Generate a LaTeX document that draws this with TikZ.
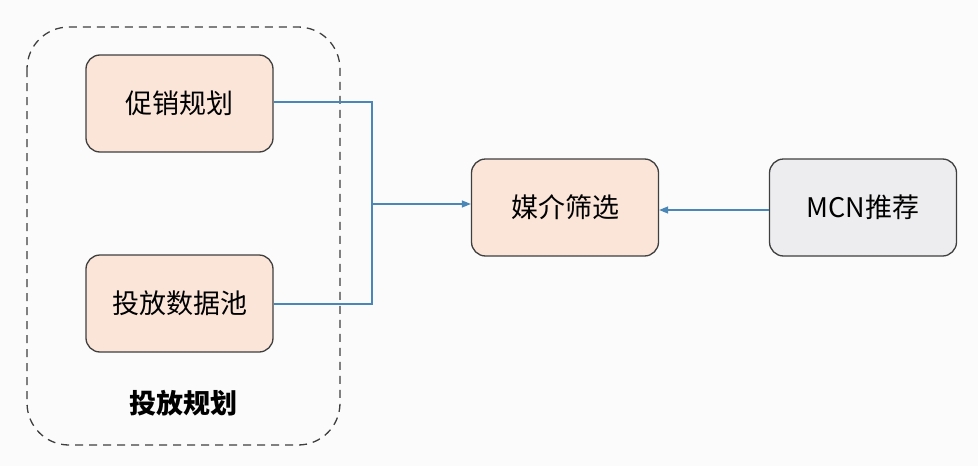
\documentclass[tikz,border=0pt]{standalone}
\usepackage{fontspec}
\setmainfont{Noto Sans CJK SC}
\usetikzlibrary{arrows.meta}
\definecolor{peach}{HTML}{FBE4D8}
\definecolor{greybox}{HTML}{EDEDEF}
\definecolor{edgec}{HTML}{3F3F3F}
\definecolor{linec}{HTML}{4A86B6}
\definecolor{bgc}{HTML}{FBFBFC}
\begin{document}
\begin{tikzpicture}[x=1pt,y=-1pt,
  box/.style={draw=edgec,line width=1.3pt,rounded corners=14pt,minimum width=187pt,minimum height=97pt,inner sep=0pt,font=\fontsize{27}{32}\selectfont,text=black},
  conn/.style={draw=linec,line width=1.2pt},
  arr/.style={conn,-{Triangle[length=9pt,width=7pt]}}]
\useasboundingbox (0,0) rectangle (978,466);
\fill[bgc] (0,0) rectangle (978,466);
\draw[edgec,line width=1.3pt,dash pattern=on 8pt off 6pt,rounded corners=42pt] (27,27) rectangle (340,445);
\node[box,fill=peach] (p) at (179.5,103.5) {促销规划};
\node[box,fill=peach] (t) at (179.5,303.5) {投放数据池};
\node[box,fill=peach] (m) at (565,207.5) {媒介筛选};
\node[box,fill=greybox] (c) at (863,207.5) {MCN推荐};
\node[font=\fontsize{27}{32}\selectfont\bfseries] (lab) at (183,403) {投放规划};
\coordinate (j) at (372,204);
\draw[conn] (p.east |- 0,102) -| (j);
\draw[conn] (t.east |- 0,304) -| (j);
\draw[arr] (j) -- (m.west |- j);
\draw[arr] (c.west |- 0,210) -- (m.east |- 0,210);
\end{tikzpicture}
\end{document}
